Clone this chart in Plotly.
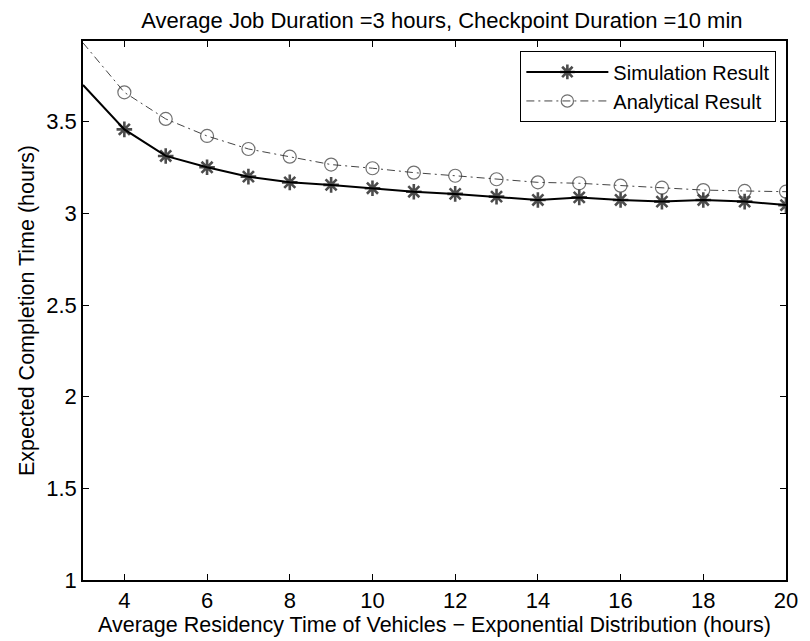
import plotly.graph_objects as go

x_vals = [3, 4, 5, 6, 7, 8, 9, 10, 11, 12, 13, 14, 15, 16, 17, 18, 19, 20]
simulation = [3.70, 3.458, 3.313, 3.251, 3.200, 3.169, 3.155, 3.137, 3.118, 3.106,
              3.091, 3.073, 3.087, 3.073, 3.064, 3.073, 3.064, 3.045]
analytical = [3.93, 3.66, 3.515, 3.422, 3.351, 3.309, 3.266, 3.246, 3.222, 3.205,
              3.186, 3.169, 3.164, 3.151, 3.140, 3.127, 3.122, 3.118]
x_ticks = [4, 6, 8, 10, 12, 14, 16, 18, 20]
y_ticks = [1, 1.5, 2, 2.5, 3, 3.5]

FONT = "Liberation Sans, Arial, sans-serif"
FS = 22
TICK_FS = 22

# first point sits on the axis edge; the reference shows no marker there
sim_sizes = [0] + [13] * (len(x_vals) - 1)
ana_sizes = [0] + [13] * (len(x_vals) - 1)

fig = go.Figure()
fig.add_trace(go.Scatter(
    x=x_vals, y=simulation, mode="lines+markers", name="Simulation Result",
    line=dict(color="black", width=2),
    marker=dict(symbol="asterisk-open", size=sim_sizes, color="black",
                line=dict(color="black", width=2.6)),
))
fig.add_trace(go.Scatter(
    x=x_vals, y=analytical, mode="lines+markers", name="Analytical Result",
    line=dict(color="#444444", width=1, dash="8px,4px,2px,4px"),
    marker=dict(symbol="circle-open", size=ana_sizes, color="#333333",
                line=dict(color="#333333", width=1.2)),
))

axis_common = dict(
    showline=True, linecolor="black", linewidth=1.6, mirror="ticks",
    ticks="inside", ticklen=6, tickwidth=1.2, tickcolor="black",
    showgrid=False, zeroline=False,
    tickfont=dict(family=FONT, size=TICK_FS, color="black"),
)

# the page body adds an 8px margin, so the figure is 8px smaller than the window
fig.update_layout(
    width=802, height=633,
    paper_bgcolor="white", plot_bgcolor="white",
    margin=dict(l=75, r=17, t=33, b=61),
    font=dict(family=FONT, color="black"),
    title=dict(text="Average Job Duration =3 hours, Checkpoint Duration =10 min",
               x=0.541, xanchor="center", y=0.981, yanchor="middle",
               font=dict(family=FONT, size=FS, color="black")),
    xaxis=dict(range=[3, 20], tickvals=x_ticks,
               title=dict(text="Average Residency Time of Vehicles \u2212 Exponential Distribution (hours)",
                          font=dict(family=FONT, size=21.5, color="black"), standoff=0),
               **axis_common),
    yaxis=dict(range=[1, 3.94], tickvals=y_ticks,
               title=dict(text="Expected Completion Time (hours)",
                          font=dict(family=FONT, size=21.5, color="black"), standoff=6),
               **axis_common),
    legend=dict(x=0.986, y=0.981, xanchor="right", yanchor="top",
                bgcolor="white", bordercolor="black", borderwidth=1.2,
                font=dict(family=FONT, size=20, color="black"),
                itemwidth=82, tracegroupgap=0),
    showlegend=True,
)

fig.write_html("out.html")
